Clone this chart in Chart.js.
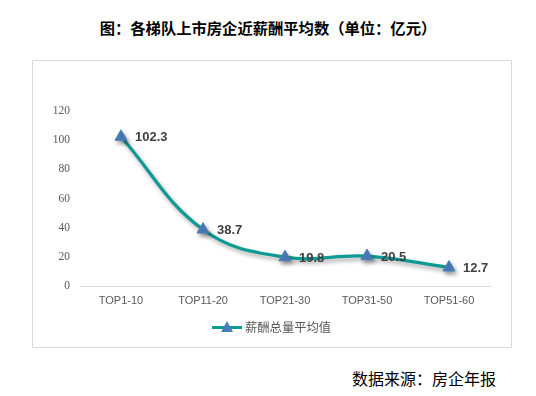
<!DOCTYPE html>
<html><head><meta charset="utf-8">
<script src="https://cdn.jsdelivr.net/npm/chart.js@4/dist/chart.umd.min.js"></script>
<style>
html,body{margin:0;padding:0;background:#fff;}
#page{position:relative;width:536px;height:396px;overflow:hidden;font-family:"Noto Sans CJK SC",sans-serif;}
#title{position:absolute;left:0;width:536px;top:16px;text-align:center;font-size:15.3px;font-weight:bold;color:#000;line-height:22px;}
#box{position:absolute;left:32px;top:60px;width:478px;height:286px;border:1px solid #d9d9d9;}
#wrap{position:absolute;left:33px;top:61px;width:478px;height:286px;}
#legend{position:absolute;left:212px;top:318px;height:18px;display:flex;align-items:center;font-size:12.3px;color:#595959;}
#legend .sym{position:relative;width:30px;height:18px;margin-right:3px;}
#legend .ln{position:absolute;left:0;top:8px;width:30px;height:3px;background:#0e9a94;}
#legend .tri{position:absolute;left:9px;top:3px;width:0;height:0;border-left:6px solid transparent;border-right:6px solid transparent;border-bottom:11px solid #4a7ebb;}
#source{position:absolute;left:352px;top:367px;font-size:16px;color:#000;line-height:22px;}
</style></head>
<body><div id="page">
<div id="title">图：各梯队上市房企近薪酬平均数（单位：亿元）</div>
<div id="box"></div>
<div id="wrap"><canvas id="c" width="478" height="286"></canvas></div>
<div id="legend"><div class="sym"><div class="ln"></div><div class="tri"></div></div><span>薪酬总量平均值</span></div>
<div id="source">数据来源：房企年报</div>
</div>
<script>
const categories = ["TOP1-10","TOP11-20","TOP21-30","TOP31-50","TOP51-60"];
const seriesName = "薪酬总量平均值";
const values = [102.3, 38.7, 19.8, 20.5, 12.7];
const yTicks = [0,20,40,60,80,100,120];

const shadowPlugin = {
  id:'shadow',
  beforeDatasetDraw(chart){ const c=chart.ctx; c.save(); c.shadowColor='rgba(0,0,0,0.35)'; c.shadowBlur=4; c.shadowOffsetX=2; c.shadowOffsetY=3; },
  afterDatasetDraw(chart){ chart.ctx.restore(); }
};
const labelPlugin = {
  id:'labels',
  afterDatasetsDraw(chart){
    const c=chart.ctx; const meta=chart.getDatasetMeta(0);
    c.save(); c.font='bold 13px "Liberation Sans", Arial, sans-serif'; c.fillStyle='#404040';
    c.textAlign='left'; c.textBaseline='middle';
    meta.data.forEach((p,i)=>{ c.fillText(values[i].toFixed(1), p.x+14, p.y+1); });
    c.restore();
  }
};
new Chart(document.getElementById('c'),{
  type:'line',
  data:{labels:categories,datasets:[{label:seriesName,data:values,borderColor:'#0e9a94',borderWidth:3.2,tension:0.4,
    pointStyle:'triangle',pointRadius:7,pointHoverRadius:7,pointBackgroundColor:'#4a7ebb',pointBorderColor:'#4a7ebb',pointBorderWidth:1}]},
  options:{responsive:false,animation:false,
    layout:{padding:{left:0,right:21,top:50,bottom:0}},
    plugins:{legend:{display:false},tooltip:{enabled:false}},
    scales:{
      x:{offset:true,grid:{display:false,drawTicks:false,offset:true},border:{color:'#d9d9d9',width:1},
        ticks:{color:'#595959',font:{family:'"Liberation Sans", Arial, sans-serif',size:11},padding:8,maxRotation:0},
        afterFit(s){s.height=61;}},
      y:{min:0,max:120,afterBuildTicks(s){s.ticks=yTicks.map(v=>({value:v}));},
        grid:{display:false,drawTicks:false},border:{display:false},
        ticks:{color:'#595959',font:{family:'"Liberation Serif", "Times New Roman", serif',size:11.5},padding:10},
        afterFit(s){s.width=47;}}
    }
  },
  plugins:[shadowPlugin,labelPlugin]
});
</script>
</body></html>
